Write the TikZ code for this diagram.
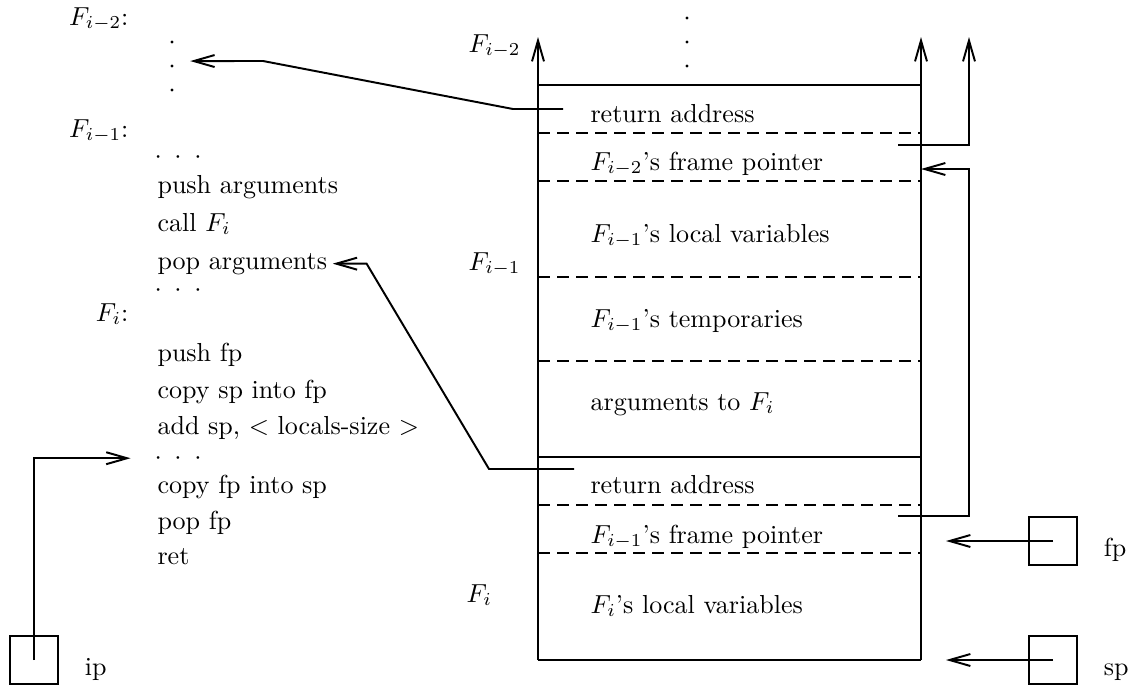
\documentclass[tikz,border=0pt]{standalone}
\usepackage{amsmath}
\usetikzlibrary{arrows.meta,positioning}
\tikzset{
  txt/.style={anchor=base west, inner sep=0pt},
  lab/.style={anchor=base east, inner sep=0pt},
  arr/.style={-{Straight Barb[length=8pt,width=4.6pt]}, line width=0.75pt},
  ln/.style={line width=0.75pt},
  sep/.style={line width=0.75pt, dash pattern=on 4.6pt off 2.7pt},
  regbox/.style={draw, line width=0.75pt, minimum size=18.6pt, inner sep=0pt},
  vdot/.style={circle, fill, inner sep=0pt, minimum size=1.3pt},
}
\newcommand{\dotrow}{$\cdot$\hspace{4.9pt}$\cdot$\hspace{4.9pt}$\cdot$}

\begin{document}
\begin{tikzpicture}[x=0.384pt,y=-0.384pt]
\useasboundingbox (0,0) rectangle (1132,685);
\newcommand{\regcell}[3]{\node[regbox] (#1) at #2 {}; \node[txt] (#1l) at ([xshift=9.7pt,yshift=-5.8pt]#1.east) {#3};}
\node[lab] (fa) at (129,25) {$F_{i-2}$:};
\node[vdot] (va1) at (172,42) {};
\node[vdot] (va2) at (172,66) {};
\node[vdot] (va3) at (172,90) {};
\node[lab] (fb) at (129,137) {$F_{i-1}$:};
\node[txt] (dr1) at (154,163) {\dotrow};
\node[txt] (pusharg) at (157,193) {push arguments};
\node[txt] (callf) at (157,231) {call $F_i$};
\node[txt] (poparg) at (157,269) {pop arguments};
\node[txt] (dr2) at (154,296) {\dotrow};
\node[lab] (fc) at (129,321) {$F_i$:};
\node[txt] (pushfp) at (157,361) {push fp};
\node[txt] (copysp) at (157,398) {copy sp into fp};
\node[txt] (addsp) at (157,434) {add sp, $<$ locals-size $>$};
\node[txt] (dr3) at (154,464) {\dotrow};
\node[txt] (copyfp) at (157,493) {copy fp into sp};
\node[txt] (popfp) at (157,529) {pop fp};
\node[txt] (ret) at (157,564) {ret};
\draw[arr] (538,660) -- (538,37);
\draw[arr] (921,660) -- (921,37);
\draw[ln] (538,85) -- (921,85);
\draw[ln] (538,457) -- (921,457);
\draw[ln] (538,660) -- (921,660);
\draw[sep] (538,133) -- (921,133);
\draw[sep] (538,181) -- (921,181);
\draw[sep] (538,277) -- (921,277);
\draw[sep] (538,361) -- (921,361);
\draw[sep] (538,505) -- (921,505);
\draw[sep] (538,553) -- (921,553);
\node[vdot] (vb1) at (687,18) {};
\node[vdot] (vb2) at (687,42) {};
\node[vdot] (vb3) at (687,66) {};
\node[txt] (sa) at (468,52) {$F_{i-2}$};
\node[txt] (sb) at (468,270) {$F_{i-1}$};
\node[txt] (sc) at (466,602) {$F_i$};
\node[txt] (reta) at (590,122) {return address};
\node[txt] (fpa) at (590,170) {$F_{i-2}$'s frame pointer};
\node[txt] (loca) at (590,242) {$F_{i-1}$'s local variables};
\node[txt] (tmpa) at (590,327) {$F_{i-1}$'s temporaries};
\node[txt] (arga) at (590,410) {arguments to $F_i$};
\node[txt] (retb) at (590,493) {return address};
\node[txt] (fpb) at (590,543) {$F_{i-1}$'s frame pointer};
\node[txt] (locb) at (590,613) {$F_i$'s local variables};
\coordinate (ra) at (563,109);
\draw[arr] (ra) -- (513,109) -- (263,61) -- ([xshift=7pt,yshift=1.9pt]va2.center);
\coordinate (rb) at (574,469);
\draw[arr] (rb) -- (489,469) -- ([xshift=15pt]poparg.east) -- ([xshift=2pt]poparg.east);
\coordinate (la) at (898,145);
\draw[arr] (la) -- (969,145) -- (969,37);
\coordinate (lb) at (898,516);
\coordinate (lbtip) at (921,169);
\draw[arr] (lb) -- (969,516) -- (969,169) -- (lbtip);
\regcell{ipreg}{(34,660)}{ip}
\regcell{fpreg}{(1053,541)}{fp}
\regcell{spreg}{(1053,660)}{sp}
\coordinate (fptip) at (946,541);
\coordinate (sptip) at (946,660);
\draw[arr] (ipreg.center) |- ([xshift=-9pt]dr3.west);
\draw[arr] (fpreg.center) -- (fptip);
\draw[arr] (spreg.center) -- (sptip);
\end{tikzpicture}
\end{document}
